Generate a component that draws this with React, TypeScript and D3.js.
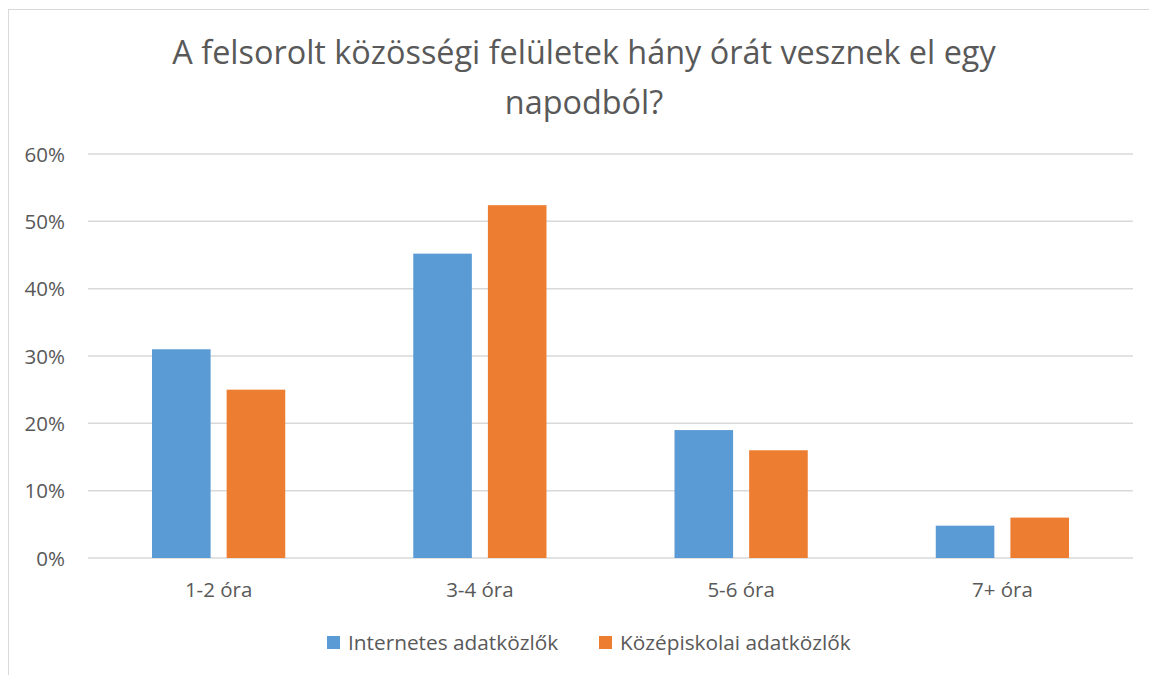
import React from 'react';
import * as d3 from 'd3';

const categories = ['1-2 óra', '3-4 óra', '5-6 óra', '7+ óra'];
const seriesNames = ['Internetes adatközlők', 'Középiskolai adatközlők'];
const internetes = [0.31, 0.452, 0.19, 0.048];
const kozepiskolai = [0.25, 0.524, 0.16, 0.06];
const yTicks = [0, 0.1, 0.2, 0.3, 0.4, 0.5, 0.6];
const titleLines = ['A felsorolt közösségi felületek hány órát vesznek el egy', 'napodból?'];

const colors = ['#5B9BD5', '#ED7D31'];
const W = 1149;
const H = 675;
const font = '"Open Sans", Lato, sans-serif';
const textColor = '#595959';

const App: React.FC = () => {
  const x = d3.scaleBand<string>().domain(categories).range([88, 1133]);
  const y = d3.scaleLinear().domain([0, 0.6]).range([558, 154]);
  const bw = x.bandwidth();
  const groupW = bw * 0.51;
  const inner = d3
    .scaleBand<string>()
    .domain(seriesNames)
    .range([(bw - groupW) / 2, (bw + groupW) / 2])
    .paddingInner(0.215);

  const series = [internetes, kozepiskolai];
  const pct = d3.format('.0%');
  const legendX = [327, 599];

  return (
    <div style={{ position: 'fixed', left: 0, top: 0 }}>
      <svg width={W} height={H} style={{ display: 'block', background: '#fff' }}>
        <rect x={8.5} y={9.5} width={1200} height={700} fill="#fff" stroke="#d9d9d9" />
        {titleLines.map((t, i) => (
          <text key={i} x={584} y={64 + i * 50} textAnchor="middle" fontFamily={font} fontSize={32.4} fill={textColor}>
            {t}
          </text>
        ))}
        {yTicks.map(t => (
          <g key={t}>
            <line x1={88} x2={1133} y1={y(t)} y2={y(t)} stroke="#d9d9d9" strokeWidth={1.5} />
            <text x={65} y={y(t) + 7.5} textAnchor="end" fontFamily={font} fontSize={20.5} fill={textColor}>
              {pct(t)}
            </text>
          </g>
        ))}
        {categories.map((c, ci) => (
          <g key={c} transform={`translate(${x(c)},0)`}>
            {series.map((s, si) => (
              <rect
                key={si}
                x={inner(seriesNames[si])}
                y={y(s[ci])}
                width={inner.bandwidth()}
                height={y(0) - y(s[ci])}
                fill={colors[si]}
              />
            ))}
            <text x={bw / 2} y={597} textAnchor="middle" fontFamily={font} fontSize={20.5} fill={textColor}>
              {c}
            </text>
          </g>
        ))}
        {seriesNames.map((n, i) => (
          <g key={n}>
            <rect x={legendX[i]} y={636} width={13} height={13} fill={colors[i]} />
            <text x={legendX[i] + 21} y={649.5} fontFamily={font} fontSize={20.8} fill={textColor}>
              {n}
            </text>
          </g>
        ))}
      </svg>
    </div>
  );
};

export default App;
